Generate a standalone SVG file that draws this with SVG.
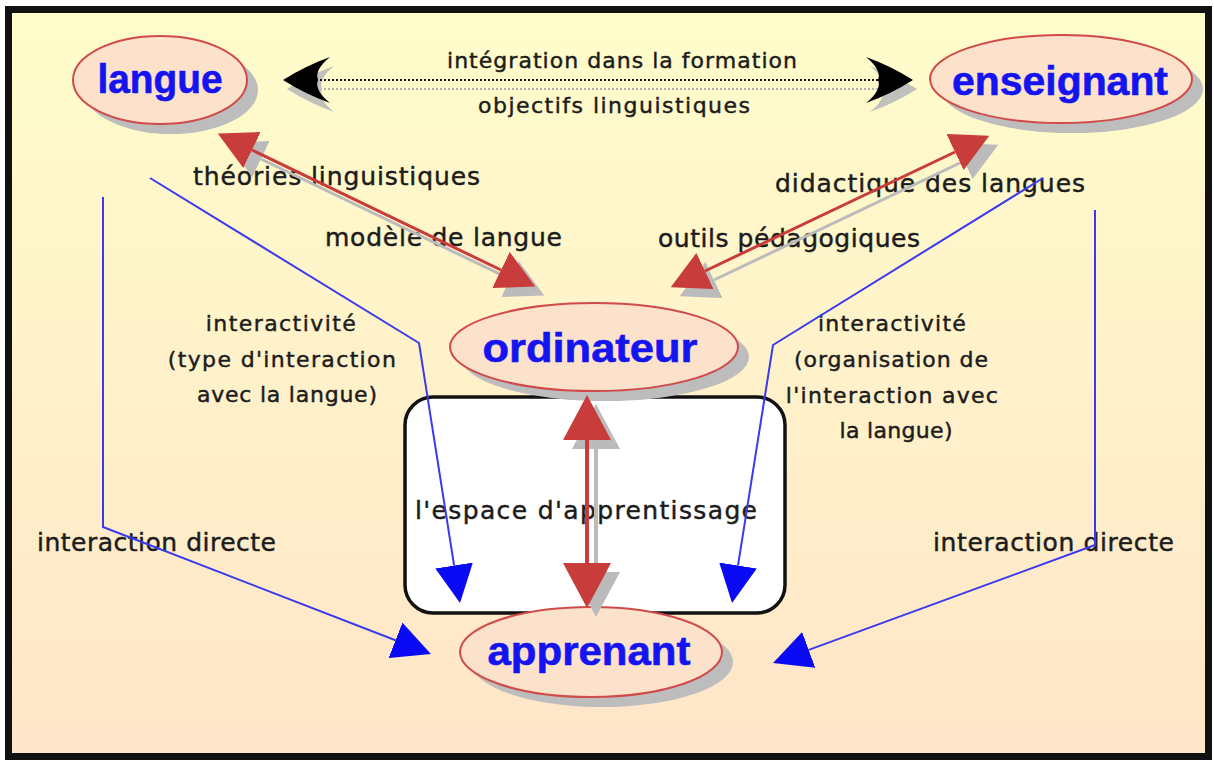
<svg xmlns="http://www.w3.org/2000/svg" width="1214" height="763" viewBox="0 0 1214 763">
<defs>
<linearGradient id="bg" x1="0" y1="0" x2="0" y2="1">
<stop offset="0" stop-color="#FFFDCB"/>
<stop offset="1" stop-color="#FFE5C9"/>
</linearGradient>
<marker id="redHead" markerUnits="userSpaceOnUse" viewBox="0 0 38 40" markerWidth="38" markerHeight="40" refX="0" refY="20" orient="auto-start-reverse"><path d="M0,0 L38,20 L0,40 Z" fill="#C83C3C"/></marker>
<marker id="redHeadBig" markerUnits="userSpaceOnUse" viewBox="0 0 45 48" markerWidth="45" markerHeight="48" refX="0" refY="24" orient="auto-start-reverse"><path d="M0,0 L45,24 L0,48 Z" fill="#C83C3C"/></marker>
<marker id="grayHead" markerUnits="userSpaceOnUse" viewBox="0 0 38 40" markerWidth="38" markerHeight="40" refX="0" refY="20" orient="auto-start-reverse"><path d="M0,0 L38,20 L0,40 Z" fill="#BBBBBB"/></marker>
<marker id="grayHeadBig" markerUnits="userSpaceOnUse" viewBox="0 0 45 48" markerWidth="45" markerHeight="48" refX="0" refY="24" orient="auto-start-reverse"><path d="M0,0 L45,24 L0,48 Z" fill="#BBBBBB"/></marker>
<marker id="blueHead" markerUnits="userSpaceOnUse" viewBox="0 0 38 38" markerWidth="38" markerHeight="38" refX="0" refY="19" orient="auto"><path d="M0,0 L38,19 L0,38 Z" fill="#0A0AF5"/></marker>
</defs>
<style>
.node-shape{fill:#FCE1CB;stroke:#D04A4A;stroke-width:2}
.shadow{fill:#BDBDBD}
.node-text{font-family:"Liberation Sans",Arial,sans-serif;font-weight:bold;font-size:40px;fill:#1414F0;stroke:#1414F0;stroke-width:0.6;text-anchor:middle}
.lbl{font-family:"DejaVu Sans","Liberation Sans",sans-serif;font-size:22px;fill:#1c1c1c;stroke:#1c1c1c;stroke-width:0.45}
.lbl24{font-family:"DejaVu Sans","Liberation Sans",sans-serif;font-size:25px;fill:#1c1c1c;stroke:#1c1c1c;stroke-width:0.45}
.red{stroke:#C83C3C;fill:none}
.redshadow{stroke:#BBBBBB;fill:none}
.blue{stroke:#3A3AEE;stroke-width:2;fill:none}
</style>

<rect x="8.5" y="9.5" width="1200" height="747" fill="url(#bg)" stroke="#111" stroke-width="7"/>

<g id="labels">
<text class="lbl" x="622" y="68" text-anchor="middle" textLength="350">intégration dans la formation</text>
<text class="lbl" x="614" y="113" text-anchor="middle" textLength="272">objectifs linguistiques</text>
<text class="lbl24" x="193" y="185" textLength="287">théories linguistiques</text>
<text class="lbl24" x="325" y="246" textLength="237">modèle de langue</text>
<text class="lbl24" x="775" y="192" textLength="310">didactique des langues</text>
<text class="lbl24" x="658" y="247" textLength="262">outils pédagogiques</text>
<text class="lbl" text-anchor="middle">
<tspan x="285" y="331" textLength="150">interactivité</tspan>
<tspan x="286" y="367" textLength="228">(type d'interaction</tspan>
<tspan x="287" y="402" textLength="180">avec la langue)</tspan>
</text>
<text class="lbl" text-anchor="middle">
<tspan x="896" y="331" textLength="148">interactivité</tspan>
<tspan x="895" y="367" textLength="194">(organisation de</tspan>
<tspan x="896" y="403" textLength="212">l'interaction avec</tspan>
<tspan x="896" y="438" textLength="113">la langue)</tspan>
</text>
<text class="lbl24" x="37" y="551" textLength="239">interaction directe</text>
<text class="lbl24" x="933" y="551" textLength="241">interaction directe</text>
</g>

<g id="espace">
<rect x="405" y="397" width="380" height="216" rx="28" fill="#FFFFFF" stroke="#111" stroke-width="3.5"/>
<text class="lbl24" x="415" y="519" textLength="342">l'espace d'apprentissage</text>
</g>

<g id="langue">
<ellipse class="shadow" cx="171" cy="90" rx="87" ry="44"/>
<ellipse class="node-shape" cx="160" cy="80" rx="87" ry="44"/>
<text class="node-text" x="160" y="93" textLength="125" lengthAdjust="spacingAndGlyphs">langue</text>
</g>

<g id="enseignant">
<ellipse class="shadow" cx="1072" cy="89" rx="131" ry="44"/>
<ellipse class="node-shape" cx="1061" cy="79" rx="131" ry="44"/>
<text class="node-text" x="1060" y="95" textLength="216" lengthAdjust="spacingAndGlyphs">enseignant</text>
</g>

<g id="ordinateur">
<ellipse class="shadow" cx="605" cy="357" rx="144" ry="44"/>
<ellipse class="node-shape" cx="594" cy="347" rx="144" ry="44"/>
<text class="node-text" x="590" y="362" textLength="215" lengthAdjust="spacingAndGlyphs">ordinateur</text>
</g>

<g id="apprenant">
<ellipse class="shadow" cx="602" cy="662" rx="131" ry="45"/>
<ellipse class="node-shape" cx="591" cy="652" rx="131" ry="45"/>
<text class="node-text" x="589" y="665" textLength="203" lengthAdjust="spacingAndGlyphs">apprenant</text>
</g>

<g id="connectors">
<g transform="translate(4,9)" opacity="0.9">
<line x1="316" y1="80" x2="878" y2="80" stroke="#AAAAAA" stroke-width="2" stroke-dasharray="2 2"/>
<path d="M283,80 Q305,66 330,57 Q314,70 318,80 Q314,90 330,103 Q305,94 283,80 Z" fill="#BBBBBB"/>
<path d="M913,80 Q891,66 866,57 Q882,70 878,80 Q882,90 866,103 Q891,94 913,80 Z" fill="#BBBBBB"/>
</g>
<line x1="316" y1="80" x2="878" y2="80" stroke="#111" stroke-width="2" stroke-dasharray="2 2"/>
<path d="M283,80 Q305,66 330,57 Q314,70 318,80 Q314,90 330,103 Q305,94 283,80 Z" fill="#000"/>
<path d="M913,80 Q891,66 866,57 Q882,70 878,80 Q882,90 866,103 Q891,94 913,80 Z" fill="#000"/>

<g transform="translate(9,9)">
<line class="redshadow" x1="252" y1="150" x2="501" y2="270" stroke-width="3" marker-start="url(#grayHead)" marker-end="url(#grayHead)"/>
<line class="redshadow" x1="705" y1="271" x2="955" y2="152" stroke-width="3" marker-start="url(#grayHead)" marker-end="url(#grayHead)"/>
<line class="redshadow" x1="587" y1="440" x2="587" y2="563" stroke-width="4" marker-start="url(#grayHeadBig)" marker-end="url(#grayHeadBig)"/>
</g>
<line class="red" x1="252" y1="150" x2="501" y2="270" stroke-width="3" marker-start="url(#redHead)" marker-end="url(#redHead)"/>
<line class="red" x1="705" y1="271" x2="955" y2="152" stroke-width="3" marker-start="url(#redHead)" marker-end="url(#redHead)"/>
<line class="red" x1="587" y1="440" x2="587" y2="563" stroke-width="4" marker-start="url(#redHeadBig)" marker-end="url(#redHeadBig)"/>

<polyline class="blue" points="103,197 103,527 395.5,640.3" marker-end="url(#blueHead)"/>
<polyline class="blue" points="150,178 419,343 454.1,565.5" marker-end="url(#blueHead)"/>
<polyline class="blue" points="1043,178 773,345 738,565.5" marker-end="url(#blueHead)"/>
<polyline class="blue" points="1095,210 1095,545 808.7,649.9" marker-end="url(#blueHead)"/>
</g>
</svg>
